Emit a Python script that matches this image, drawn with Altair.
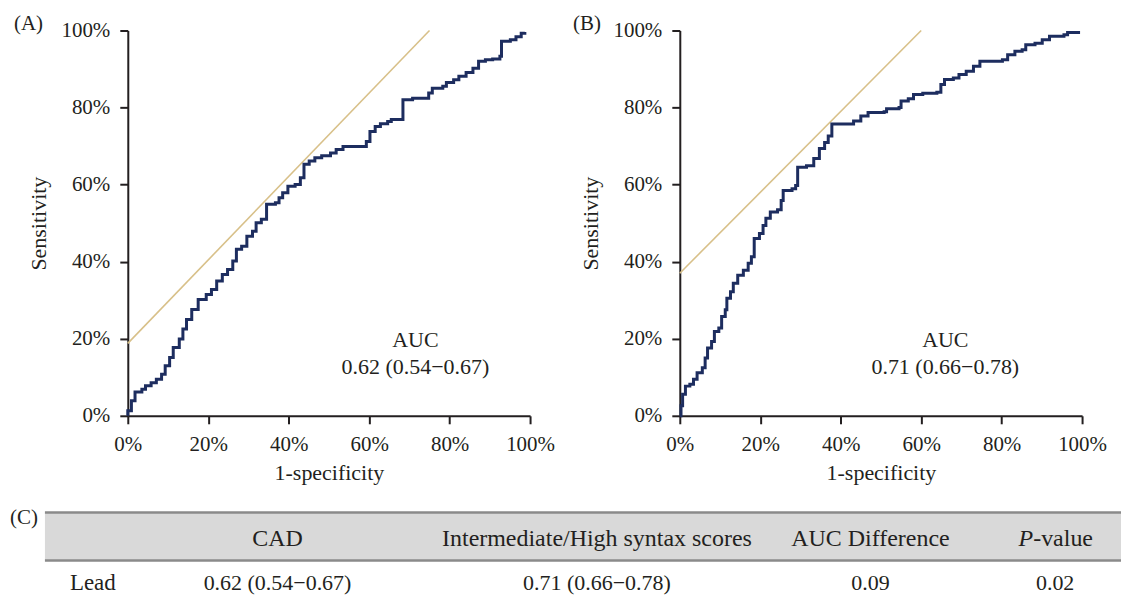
import altair as alt
import pandas as pd

# ---------------- data (percent) ----------------
A_FPR = [0, 0, 0.9, 1.8, 3.5, 4.4, 5.8, 7.1, 8.4, 9.3, 10.4, 11.3, 12.8, 13.7, 14.6, 15.9, 17.5,
         19.5, 20.8, 22.1, 23.5, 24.8, 26.1, 27.0, 28.3, 29.6, 31.0, 31.9, 33.2, 34.5, 36.7, 37.6,
         38.5, 39.8, 41.6, 42.9, 43.8, 45.1, 46.5, 48.2, 50.4, 51.8, 53.5, 58.4, 59.3, 60.2, 61.5,
         62.8, 64.6, 65.5, 68.1, 68.4, 70.8, 73.9, 74.8, 75.7, 78.3, 79.2, 81.0, 82.3, 84.1, 85.8,
         87.2, 88.9, 90.7, 92.5, 92.9, 95.1, 96.5, 97.8, 98.7]
A_TPR = [0, 1.3, 3.9, 6.2, 6.9, 7.8, 8.6, 9.5, 10.8, 13.0, 15.1, 17.7, 19.9, 22.5, 25.0, 27.6, 30.2,
         31.5, 32.8, 35.0, 36.7, 38.0, 40.2, 43.2, 44.0, 46.6, 47.9, 50.1, 51.0, 54.9, 55.3, 56.6,
         57.9, 59.6, 60.0, 61.8, 65.3, 66.1, 67.0, 67.5, 68.2, 69.1, 69.9, 69.9, 71.2, 73.8, 75.1,
         75.8, 76.4, 76.9, 76.9, 82.0, 82.4, 82.4, 83.8, 85.0, 85.5, 86.5, 87.2, 88.1, 89.1, 90.2,
         92.0, 92.4, 92.6, 93.3, 97.2, 97.6, 98.4, 99.3, 99.6]

B_FPR = [0, 0.3, 0.7, 1.4, 2.5, 3.4, 4.3, 5.6, 6.3, 6.9, 7.9, 8.6, 9.7, 10.4, 11.3, 11.7, 12.6,
         13.3, 14.4, 15.8, 17.0, 17.8, 18.5, 19.8, 20.7, 21.4, 22.5, 24.3, 25.2, 25.7, 27.9, 28.8,
         29.3, 31.5, 33.3, 34.7, 36.0, 36.9, 37.8, 41.4, 43.2, 45.0, 46.8, 50.8, 51.4, 54.5, 55.0,
         56.8, 58.1, 60.4, 63.9, 64.9, 65.8, 68.0, 69.4, 71.2, 73.0, 74.6, 77.5, 80.2, 81.5, 83.3,
         85.1, 86.0, 88.3, 90.1, 91.9, 95.5, 96.4, 99.5]
B_TPR = [0, 2.6, 5.6, 7.7, 8.2, 9.5, 11.2, 12.5, 15.0, 17.6, 19.3, 21.9, 22.8, 25.8, 27.5, 30.5, 32.2,
         34.4, 36.5, 37.8, 39.6, 41.3, 46.0, 47.3, 49.4, 51.3, 52.9, 53.5, 55.9, 58.5, 58.9, 59.8,
         64.5, 64.9, 66.8, 69.4, 70.9, 72.6, 75.7, 75.7, 76.5, 77.8, 78.7, 78.9, 79.7, 80.0, 81.7,
         82.3, 83.4, 83.7, 84.0, 86.0, 87.3, 87.7, 88.6, 89.4, 90.7, 92.0, 92.0, 92.4, 93.7, 94.6,
         95.0, 96.3, 96.7, 97.6, 98.5, 98.9, 99.5, 99.5]

A_TAN_X = [0, 75]
A_TAN_Y = [18.8, 100]
B_TAN_X = [0, 60]
B_TAN_Y = [37, 100]

PANEL_LABELS = ["(A)", "(B)"]
AUC_TITLE = "AUC"
AUC_VALUES = ["0.62 (0.54\u22120.67)", "0.71 (0.66\u22120.78)"]
AUC_POS_X = [71.5, 66]

TABLE_LABEL = "(C)"
HEADERS = ["", "CAD", "Intermediate/High syntax scores", "AUC Difference", "P-value"]
ROW_VALUES = ["Lead", "0.62 (0.54\u22120.67)", "0.71 (0.66\u22120.78)", "0.09", "0.02"]

# ---------------- layout / style ----------------
FONT = "Liberation Serif"
INK = "#231f20"
NAVY = "#1d2d5f"
TAN = "#d8c089"
PW, PH = 403, 386
# the table shares its left origin with panel A (x = 128 on the page)
T_LEFT = -83           # table band starts 83px left of panel A's origin
TABLE_W, TABLE_H = 995, 82
COL_X = [-58, 150, 470, 744, 929]


def panel(fpr, tpr, tx, ty, label, auc_val, auc_x, lbl_dx):
    roc_df = pd.DataFrame({"fpr": fpr, "tpr": tpr, "i": range(len(fpr))})
    tan_df = pd.DataFrame({"fpr": tx, "tpr": ty})
    xenc = alt.X("fpr:Q", scale=alt.Scale(domain=[0, 100], nice=False),
                 axis=alt.Axis(values=[0, 20, 40, 60, 80, 100], labelExpr="datum.value + '%'",
                               labelPadding=10, titlePadding=8, labelFlush=False),
                 title="1-specificity")
    yenc = alt.Y("tpr:Q", scale=alt.Scale(domain=[0, 100], nice=False),
                 axis=alt.Axis(values=[0, 20, 40, 60, 80, 100], labelExpr="datum.value + '%'",
                               labelPadding=10, titlePadding=10, labelFlush=False),
                 title="Sensitivity")
    tan = alt.Chart(tan_df).mark_line(color=TAN, strokeWidth=1.6).encode(x=xenc, y=yenc)
    roc = alt.Chart(roc_df).mark_line(color=NAVY, strokeWidth=3, interpolate="step-after").encode(
        x="fpr:Q", y="tpr:Q", order="i:Q")
    auc_df = pd.DataFrame({"x": [auc_x, auc_x], "y": [19.6, 12.6], "t": [AUC_TITLE, auc_val]})
    auc = alt.Chart(auc_df).mark_text(font=FONT, fontSize=22, color=INK, baseline="middle").encode(
        x="x:Q", y="y:Q", text="t:N")
    lab = alt.Chart(pd.DataFrame({"t": [label]})).mark_text(
        font=FONT, fontSize=21, color=INK, align="left", baseline="middle").encode(
        text="t:N", x=alt.value(lbl_dx), y=alt.value(-6))
    return alt.layer(tan, roc, auc, lab).properties(width=PW, height=PH)


pa = panel(A_FPR, A_TPR, A_TAN_X, A_TAN_Y, PANEL_LABELS[0], AUC_VALUES[0], AUC_POS_X[0], -114)
pb = panel(B_FPR, B_TPR, B_TAN_X, B_TAN_Y, PANEL_LABELS[1], AUC_VALUES[1], AUC_POS_X[1], -107)
top = alt.hconcat(pa, pb, spacing=18)

# ---------------- table ----------------
one = pd.DataFrame({"a": [0]})
band = alt.Chart(one).mark_rect(color="#d9d9d9").encode(
    x=alt.value(T_LEFT), x2=alt.value(TABLE_W), y=alt.value(0), y2=alt.value(48))
rule_top = alt.Chart(one).mark_rule(color="#8a8a8a", strokeWidth=2.5).encode(
    x=alt.value(T_LEFT), x2=alt.value(TABLE_W), y=alt.value(0))
rule_bot = alt.Chart(one).mark_rule(color="#8a8a8a", strokeWidth=2.5).encode(
    x=alt.value(T_LEFT), x2=alt.value(TABLE_W), y=alt.value(48))

xs = alt.X("x:Q", scale=alt.Scale(domain=[0, TABLE_W], range=[0, TABLE_W], nice=False), axis=None)

HEAD_FS = 24
head_df = pd.DataFrame({"x": COL_X[1:4], "t": HEADERS[1:4]})
head = alt.Chart(head_df).mark_text(font=FONT, fontSize=HEAD_FS, color=INK, baseline="middle").encode(
    x=xs, y=alt.value(26), text="t:N")
p_df = pd.DataFrame({"x": [COL_X[4]], "t": [HEADERS[4][0]]})
p_ital = alt.Chart(p_df).mark_text(font=FONT, fontSize=HEAD_FS, color=INK, baseline="middle",
                                   fontStyle="italic", align="right", dx=-22).encode(
    x=xs, y=alt.value(26), text="t:N")
pv_df = pd.DataFrame({"x": [COL_X[4]], "t": [HEADERS[4][1:]]})
p_rest = alt.Chart(pv_df).mark_text(font=FONT, fontSize=HEAD_FS, color=INK, baseline="middle",
                                    align="left", dx=-22).encode(
    x=xs, y=alt.value(26), text="t:N")

lead_df = pd.DataFrame({"x": [COL_X[0]], "t": [ROW_VALUES[0]]})
lead = alt.Chart(lead_df).mark_text(font=FONT, fontSize=23, color=INK, baseline="middle",
                                    align="left").encode(x=xs, y=alt.value(71), text="t:N")
vals_df = pd.DataFrame({"x": COL_X[1:], "t": ROW_VALUES[1:]})
vals = alt.Chart(vals_df).mark_text(font=FONT, fontSize=22, color=INK, baseline="middle").encode(
    x=xs, y=alt.value(71), text="t:N")
clab = alt.Chart(pd.DataFrame({"t": [TABLE_LABEL]})).mark_text(
    font=FONT, fontSize=21, color=INK, align="left", baseline="middle").encode(
    text="t:N", x=alt.value(-118), y=alt.value(5))

table = alt.layer(band, rule_top, rule_bot, head, p_ital, p_rest, lead, vals, clab).properties(
    width=TABLE_W, height=TABLE_H)

chart = alt.vconcat(top, table, spacing=23).properties(
    padding={"left": 2, "top": 5, "right": 0, "bottom": 0},
    background="white"
).configure_view(stroke=None).configure_axis(
    grid=False, domainColor=INK, domainWidth=2, tickColor=INK, tickWidth=2, tickSize=8,
    labelFont=FONT, labelFontSize=21, labelColor=INK,
    titleFont=FONT, titleFontSize=22, titleFontWeight="normal", titleColor=INK
)

chart.save("out.html", embed_options={"renderer": "svg", "actions": False})
